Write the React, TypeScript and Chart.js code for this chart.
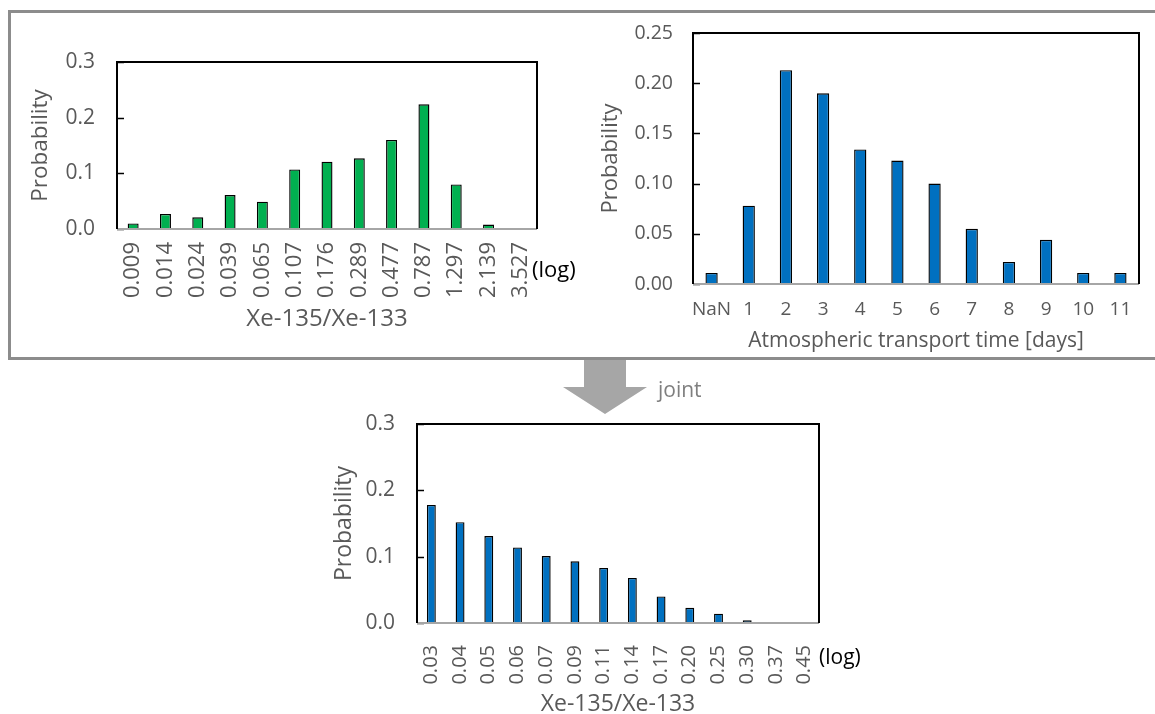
import React, { useEffect, useRef } from "react";
import { Chart, registerables } from "chart.js";

Chart.register(...registerables);

// ---------- data ----------
const ratioLabels = ["0.009", "0.014", "0.024", "0.039", "0.065", "0.107", "0.176", "0.289", "0.477", "0.787", "1.297", "2.139", "3.527"];
const ratioProb = [0.010, 0.027, 0.021, 0.061, 0.049, 0.107, 0.121, 0.127, 0.160, 0.224, 0.080, 0.008, 0];

const dayLabels = ["NaN", "1", "2", "3", "4", "5", "6", "7", "8", "9", "10", "11"];
const dayProb = [0.011, 0.078, 0.213, 0.190, 0.134, 0.123, 0.100, 0.055, 0.022, 0.044, 0.011, 0.011];

const jointLabels = ["0.03", "0.04", "0.05", "0.06", "0.07", "0.09", "0.11", "0.14", "0.17", "0.20", "0.25", "0.30", "0.37", "0.45"];
const jointProb = [0.178, 0.152, 0.131, 0.114, 0.101, 0.093, 0.083, 0.068, 0.040, 0.023, 0.014, 0.004, 0.001, 0.0005];

const yVals3 = [0, 0.1, 0.2, 0.3];
const yLabels3 = ["0.0", "0.1", "0.2", "0.3"];
const yVals25 = [0, 0.05, 0.1, 0.15, 0.2, 0.25];
const yLabels25 = ["0.00", "0.05", "0.10", "0.15", "0.20", "0.25"];

const FONT = "'Open Sans', 'Noto Sans', sans-serif";
const GRAY_TEXT = "#595959";

const framePlugin = {
  id: "excelFrame",
  afterDatasetsDraw(chart: any) {
    const { ctx, chartArea: a, scales } = chart;
    const y = scales.y;
    ctx.save();
    ctx.strokeStyle = "#000";
    ctx.lineWidth = 1.5;
    y.ticks.forEach((t: any) => {
      const py = Math.round(y.getPixelForValue(t.value)) + 0.5;
      ctx.beginPath();
      ctx.moveTo(a.left, py);
      ctx.lineTo(a.left + 7, py);
      ctx.stroke();
    });
    ctx.strokeStyle = "#a6a6a6";
    ctx.lineWidth = 2;
    ctx.beginPath();
    ctx.moveTo(a.left, a.bottom);
    ctx.lineTo(a.right, a.bottom);
    ctx.stroke();
    ctx.strokeStyle = "#000";
    ctx.lineWidth = 2;
    ctx.beginPath();
    ctx.moveTo(a.left, a.bottom);
    ctx.lineTo(a.left, a.top);
    ctx.lineTo(a.right, a.top);
    ctx.lineTo(a.right, a.bottom);
    ctx.stroke();
    ctx.restore();
  },
};

type Cfg = {
  labels: string[];
  values: number[];
  color: string;
  yVals: number[];
  yLabels: string[];
  rotate: boolean;
  pad: { top: number; right: number };
  yWidth: number;
  xHeight: number;
  xTitle: string;
  yTitlePad: number;
  xTitlePad: number;
  xTickPad: number;
  yTickPad: number;
  xTickSize: number;
  yTickSize: number;
  xTitleSize: number;
  yTitleSize: number;
  barPct: number;
};

function BarChart({ cfg, width, height, left, top }: { cfg: Cfg; width: number; height: number; left: number; top: number }) {
  const ref = useRef<HTMLCanvasElement>(null);
  useEffect(() => {
    if (!ref.current) return;
    const chart = new Chart(ref.current, {
      type: "bar",
      data: {
        labels: cfg.labels,
        datasets: [
          {
            data: cfg.values,
            backgroundColor: cfg.color,
            borderColor: "#000",
            borderWidth: 1.4,
            borderSkipped: "start",
            barPercentage: cfg.barPct,
            categoryPercentage: 1,
          },
        ],
      },
      options: {
        animation: false,
        responsive: false,
        devicePixelRatio: 1,
        layout: { padding: { top: cfg.pad.top, right: cfg.pad.right, left: 0, bottom: 0 } },
        plugins: { legend: { display: false }, tooltip: { enabled: false } },
        scales: {
          x: {
            grid: { display: false, drawTicks: false },
            border: { display: false },
            ticks: {
              autoSkip: false,
              minRotation: cfg.rotate ? 90 : 0,
              maxRotation: cfg.rotate ? 90 : 0,
              padding: cfg.xTickPad,
              color: GRAY_TEXT,
              font: { family: FONT, size: cfg.xTickSize },
            },
            title: {
              display: true,
              text: cfg.xTitle,
              color: GRAY_TEXT,
              font: { family: FONT, size: cfg.xTitleSize, lineHeight: 1.0 },
              padding: { top: 0, bottom: cfg.xTitlePad },
            },
            afterFit: (s: any) => {
              s.height = cfg.xHeight;
              s.paddingLeft = 0;
              s.paddingRight = 0;
            },
          },
          y: {
            min: 0,
            max: cfg.yVals[cfg.yVals.length - 1],
            grid: { display: false, drawTicks: false },
            border: { display: false },
            afterBuildTicks: (s: any) => {
              s.ticks = cfg.yVals.map((v) => ({ value: v }));
            },
            ticks: {
              padding: cfg.yTickPad,
              color: GRAY_TEXT,
              font: { family: FONT, size: cfg.yTickSize },
              callback: (_v: any, i: number) => cfg.yLabels[i],
            },
            title: {
              display: true,
              text: "Probability",
              color: GRAY_TEXT,
              font: { family: FONT, size: cfg.yTitleSize, lineHeight: 1.0 },
              padding: { top: cfg.yTitlePad, bottom: 0 },
            },
            afterFit: (s: any) => {
              s.width = cfg.yWidth;
              s.paddingTop = 0;
              s.paddingBottom = 0;
            },
          },
        },
      },
      plugins: [framePlugin],
    } as any);
    return () => chart.destroy();
  }, []);
  return (
    <canvas
      ref={ref}
      width={width}
      height={height}
      style={{ position: "absolute", left, top, width, height }}
    />
  );
}

const cfg1: Cfg = {
  labels: ratioLabels,
  values: ratioProb,
  color: "#00b050",
  yVals: yVals3,
  yLabels: yLabels3,
  rotate: true,
  pad: { top: 22, right: 37 },
  yWidth: 103,
  xHeight: 111,
  xTitle: "Xe-135/Xe-133",
  yTitlePad: 15,
  xTitlePad: 9,
  xTickPad: 13,
  yTickPad: 22,
  xTickSize: 22,
  yTickSize: 21,
  xTitleSize: 24,
  yTitleSize: 22.5,
  barPct: 0.34,
};

const cfg2: Cfg = {
  labels: dayLabels,
  values: dayProb,
  color: "#0070c0",
  yVals: yVals25,
  yLabels: yLabels25,
  rotate: false,
  pad: { top: 15, right: 16 },
  yWidth: 103,
  xHeight: 69,
  xTitle: "Atmospheric transport time [days]",
  yTitlePad: 10,
  xTitlePad: 1,
  xTickPad: 14,
  yTickPad: 20,
  xTickSize: 19,
  yTickSize: 19.5,
  xTitleSize: 21,
  yTitleSize: 22,
  barPct: 0.33,
};

const cfg3: Cfg = {
  labels: jointLabels,
  values: jointProb,
  color: "#0070c0",
  yVals: yVals3,
  yLabels: yLabels3,
  rotate: true,
  pad: { top: 24, right: 61 },
  yWidth: 97,
  xHeight: 91,
  xTitle: "Xe-135/Xe-133",
  yTitlePad: 13,
  xTitlePad: -2,
  xTickPad: 22,
  yTickPad: 22,
  xTickSize: 20,
  yTickSize: 21,
  xTitleSize: 23,
  yTitleSize: 23,
  barPct: 0.31,
};

export default function App() {
  return (
    <div
      style={{
        position: "absolute",
        left: 0,
        top: 0,
        width: 1155,
        height: 714,
        overflow: "hidden",
        background: "#fff",
        fontFamily: FONT,
      }}
    >
      <div
        style={{
          position: "absolute",
          left: 8,
          top: 10,
          width: 1170,
          height: 350,
          border: "3px solid #8c8c8c",
          boxSizing: "border-box",
        }}
      />
      <BarChart cfg={cfg1} left={14} top={40} width={560} height={300} />
      <BarChart cfg={cfg2} left={590} top={18} width={565} height={335} />
      <BarChart cfg={cfg3} left={320} top={400} width={560} height={314} />
      <div style={{ position: "absolute", left: 532, top: 254, fontSize: 22, color: "#000", lineHeight: "28px" }}>(log)</div>
      <div style={{ position: "absolute", left: 819, top: 642, fontSize: 21, color: "#000", lineHeight: "28px" }}>(log)</div>
      <svg style={{ position: "absolute", left: 0, top: 0 }} width={1155} height={714} pointerEvents="none">
        <polygon points="584,360 626,360 626,387 647,387 605,414 563,387 584,387" fill="#a6a6a6" />
      </svg>
      <div style={{ position: "absolute", left: 658, top: 375, fontSize: 21, color: "#7f7f7f", lineHeight: "28px" }}>joint</div>
    </div>
  );
}
